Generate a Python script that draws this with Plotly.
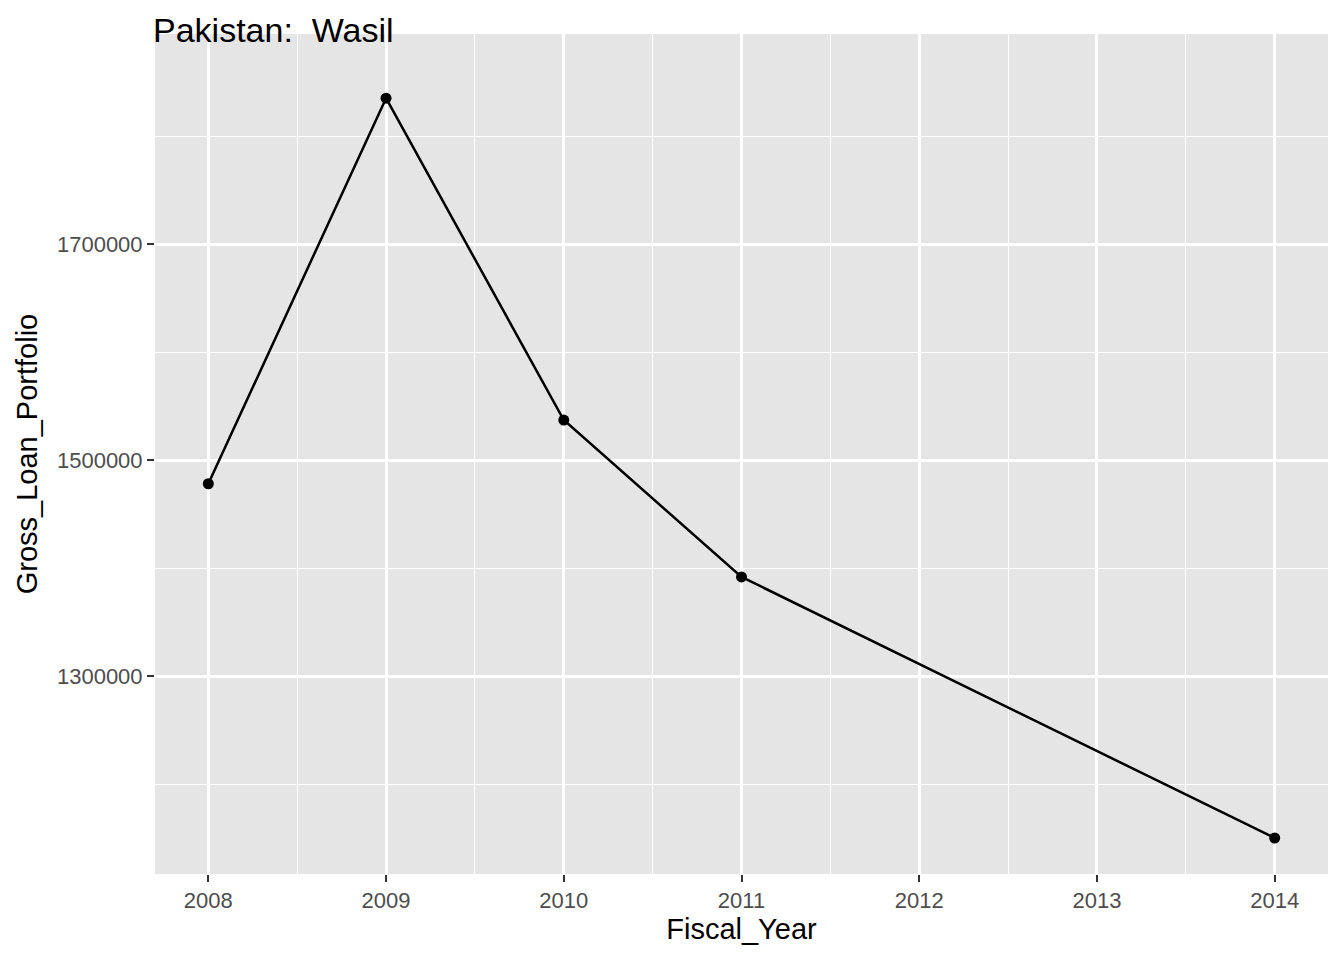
import plotly.graph_objects as go

years = [2008, 2009, 2010, 2011, 2014]
gross_loan_portfolio = [1478000, 1835000, 1537000, 1391700, 1150000]

fig = go.Figure(
    go.Scatter(
        x=years,
        y=gross_loan_portfolio,
        mode="lines+markers",
        line={"color": "black", "width": 2.5},
        marker={"color": "black", "size": 11},
    )
)

axis_common = dict(
    showgrid=True,
    gridcolor="white",
    gridwidth=2.5,
    zeroline=False,
    ticks="outside",
    ticklen=7,
    tickwidth=2,
    tickcolor="#333333",
    tickfont={"size": 22, "color": "#4d4d4d"},
    title_font={"size": 29, "color": "black"},
    showline=False,
)

# page body adds ~8px offset, so margins are compensated
fig.update_layout(
    width=1344,
    height=960,
    paper_bgcolor="white",
    plot_bgcolor="#e5e5e5",
    font={"family": "Liberation Sans, Arial, sans-serif"},
    showlegend=False,
    margin={"l": 147, "r": 24, "t": 26, "b": 94},
    title={
        "text": "Pakistan:  Wasil",
        "x": 145 / 1344,
        "xanchor": "left",
        "y": 1 - 22 / 960,
        "yanchor": "middle",
        "font": {"size": 34, "color": "black"},
    },
)

fig.update_xaxes(
    **axis_common,
    title_text="Fiscal_Year",
    title_standoff=6,
    range=[2007.70, 2014.30],
    tickmode="linear",
    tick0=2008,
    dtick=1,
    minor={"tick0": 2008.5, "dtick": 1, "showgrid": True, "gridcolor": "white", "gridwidth": 1.2},
)
fig.update_yaxes(
    **axis_common,
    title_text="Gross_Loan_Portfolio",
    title_standoff=10,
    range=[1116667, 1894444],
    tickmode="linear",
    tick0=1300000,
    dtick=200000,
    tickformat="d",
    minor={"tick0": 1200000, "dtick": 200000, "showgrid": True, "gridcolor": "white", "gridwidth": 1.2},
)

fig.write_html("out.html")
